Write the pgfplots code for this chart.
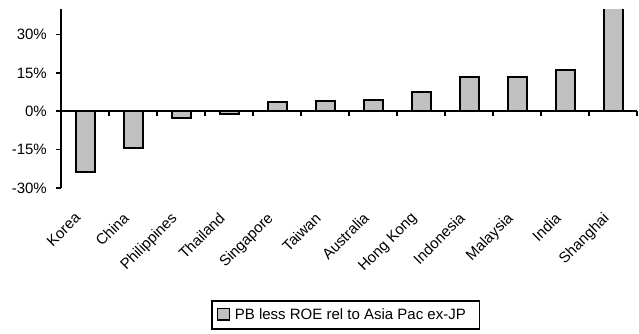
\documentclass[border=0pt]{standalone}
\usepackage{fontspec}
\setmainfont{Liberation Sans}
\usepackage{pgfplots}
\pgfplotsset{compat=1.18}
\definecolor{barfill}{RGB}{192,192,192}
\begin{document}
\fontsize{15bp}{17bp}\selectfont
\begin{tikzpicture}[x=1bp,y=1bp]
\useasboundingbox (0,0) rectangle (639,333);
\begin{axis}[
  at={(61bp,145bp)}, anchor=south west,
  scale only axis, width=576bp, height=179bp,
  xmin=-0.5, xmax=11.5, ymin=-30, ymax=40,
  axis x line=middle, axis y line=left,
  axis line style={line width=1.6bp, -},
  hide obscured x ticks=false, hide obscured y ticks=false,
  ytick={-30,-15,0,15,30},
  yticklabels={-30\%,-15\%,0\%,15\%,30\%},
  xtick={0,...,11},
  xticklabels={Korea,China,Philippines,Thailand,Singapore,Taiwan,Australia,Hong Kong,Indonesia,Malaysia,India,Shanghai},
  minor xtick={0.5,1.5,...,11.5},
  major x tick style={draw=none},
  tick style={line width=1.6bp, black},
  tick align=outside, major tick length=5bp, minor tick length=5bp,
  xticklabel shift=95bp,
  xticklabel style={xshift=-11bp, rotate=45, anchor=north east, inner sep=0pt},
  yticklabel style={inner sep=0pt, xshift=-9bp},
  ybar, bar width=19bp,
  legend style={at={(axis description cs:0.2604,-0.6257)}, anchor=north west,
    draw=black, line width=1.6bp, inner xsep=5bp, inner ysep=6bp,
    nodes={inner sep=1.5bp, anchor=base west}},
  legend image code/.code={\draw[#1, line width=1.6bp] (0bp,-1bp) rectangle (12bp,10.5bp);},
]
\addplot[fill=barfill, draw=black, line width=2bp] coordinates {
 (0,-23.7) (1,-14.4) (2,-2.7) (3,-1.2) (4,3.5) (5,3.9)
 (6,4.4) (7,7.5) (8,13.5) (9,13.5) (10,16.2) (11,46)
};
\addlegendentry{\rule[-22bp]{0pt}{1bp}\hspace*{3bp}PB less ROE rel to Asia Pac ex-JP\hspace*{7bp}}
\end{axis}
\end{tikzpicture}
\end{document}
